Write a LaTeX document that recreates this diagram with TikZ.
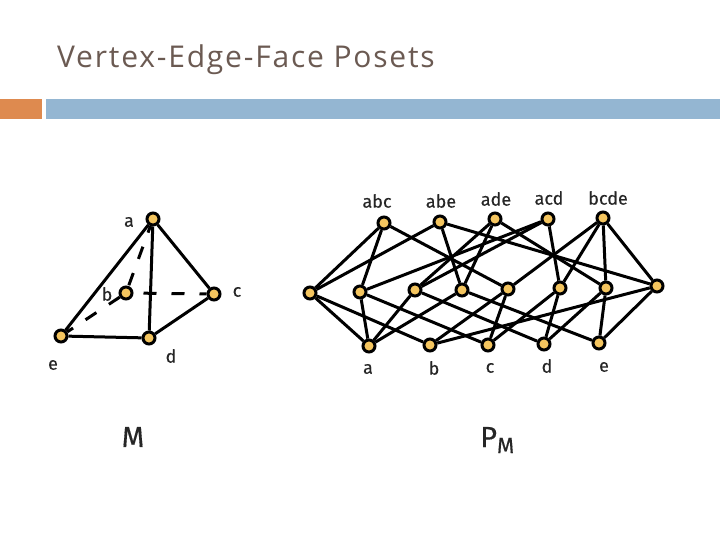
\documentclass[tikz,border=0pt]{standalone}
\usepackage{fontspec}
\usetikzlibrary{backgrounds}
\setmainfont{Open Sans}
\newfontfamily\titlefont[LetterSpace=6]{Open Sans}
\newfontfamily\handfont[FakeBold=0.4]{Fira Sans}
\definecolor{titlecol}{HTML}{6B5A52}
\definecolor{orangebar}{HTML}{DE8A4F}
\definecolor{bluebar}{HTML}{94B6D2}
\definecolor{dotfill}{HTML}{F4C55F}
\tikzset{x=1pt,y=-1pt,
 vtx/.style={circle,draw=black,fill=dotfill,line width=3pt,minimum size=12pt,inner sep=0pt},
 lnk/.style={line width=3pt,black},
 dsh/.style={line width=3pt,black,dash pattern=on 13pt off 15pt},
 lab/.style={font=\handfont\fontsize{18}{18}\selectfont,text=black!85,inner sep=0pt},
 biglab/.style={font=\handfont\fontsize{29}{29}\selectfont,text=black!85,inner sep=0pt}}
\begin{document}
\begin{tikzpicture}
\useasboundingbox (0,0) rectangle (720,540);
\node[anchor=base west,inner sep=0pt,text=titlecol,font=\titlefont\fontsize{30}{30}\selectfont] (title) at (57,68) {Vertex-Edge-Face Posets};
\fill[orangebar] (0,99) rectangle (42,119);
\fill[bluebar] (46,99) rectangle (720,119);
% M
\node[vtx] (A) at (153,219) {};
\node[vtx] (B) at (126,293) {};
\node[vtx] (C) at (214,294) {};
\node[vtx] (D) at (149,338) {};
\node[vtx] (E) at (61,336) {};
\node[lab] (la) at (129,222) {a};
\node[lab] (lb) at (107,294) {b};
\node[lab] (lc) at (237,292) {c};
\node[lab] (ld) at (171,356) {d};
\node[lab] (le) at (53,365) {e};
\node[biglab] (lM) at (133,437) {M};
% poset nodes
\foreach \n/\x/\y in {f1/384/223,f2/440/222,f3/495/219,f4/548/219,f5/603/218,
 m1/310/293,m2/360/292,m3/415/290,m4/462/290,m5/508/289,m6/560/288,m7/606/288,m8/657/286,
 v1/369/346,v2/430/345,v3/488/345,v4/544/344,v5/599/343}{\node[vtx] (\n) at (\x,\y) {};}
\begin{pgfonlayer}{background}
\draw[lnk] (A)--(E); \draw[lnk] (A)--(D); \draw[lnk] (A)--(C); \draw[lnk] (E)--(D); \draw[lnk] (D)--(C);
\draw[dsh,dash phase=6pt] (A)--(B);
\draw[dsh] (B)--(E);
\draw[dsh,dash phase=18pt] (B)--(C);
\foreach \a/\b in {m1/f1,m1/f2,m1/v1,m1/v2,
 m2/f1,m2/f4,m2/v1,m2/v3,
 m3/f3,m3/f4,m3/v1,m3/v4,
 m4/f2,m4/f3,m4/v1,m4/v5,
 m5/f1,m5/f5,m5/v2,m5/v3,
 m6/f4,m6/f5,m6/v3,m6/v4,
 m7/f3,m7/f5,m7/v4,m7/v5,
 m8/f2,m8/f5,m8/v2,m8/v5}{\draw[lnk] (\a)--(\b);}
\end{pgfonlayer}
\node[lab] (t1) at (377,201) {abc};
\node[lab] (t2) at (441,201) {abe};
\node[lab] (t3) at (496,199) {ade};
\node[lab] (t4) at (549,198) {acd};
\node[lab] (t5) at (608,198) {bcde};
\node[lab] (b1) at (368,369) {a};
\node[lab] (b2) at (434,368) {b};
\node[lab] (b3) at (490,368) {c};
\node[lab] (b4) at (547,366) {d};
\node[lab] (b5) at (604,367) {e};
\node[biglab,anchor=base west] (lP) at (480,447) {P\raisebox{-6pt}{\fontsize{22}{22}\selectfont M}};
\end{tikzpicture}
\end{document}
